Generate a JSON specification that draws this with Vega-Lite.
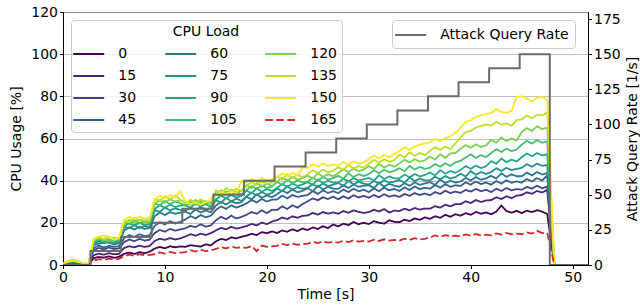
{
"$schema": "https://vega.github.io/schema/vega-lite/v6.json",
"width": 525, "height": 253,
"autosize": {"type": "none"},
"padding": {"left": 63, "top": 12, "right": 52, "bottom": 43},
"background": "white",
"config": {
  "font": "DejaVu Sans",
  "view": {"stroke": "black", "strokeWidth": 1},
  "axis": {"domainColor": "black", "tickColor": "black", "labelColor": "black", "titleColor": "black", "labelFontSize": 14, "titleFontSize": 14, "titleFontWeight": "normal", "tickSize": 3.5, "labelPadding": 2, "domainWidth": 1, "tickWidth": 1, "gridColor": "#b0b0b0", "gridWidth": 0.8, "labelFlush": false, "labelOverlap": false},
  "legend": {"labelFontSize": 14, "labelColor": "black", "titleFontSize": 14, "titleFontWeight": "normal", "titleColor": "black", "strokeColor": "#cccccc", "fillColor": "rgba(255,255,255,0.8)", "cornerRadius": 3, "padding": 5}
},
"layer": [
{
  "data": {"values": [
{"t":0,"0":0.2,"15":0.3,"30":0.2,"45":0.3,"60":0.4,"75":0.3,"90":0.4,"105":0.5,"120":0.6,"135":0.8,"150":0.7,"165":0.1},
{"t":0.5,"0":0.4,"15":0.5,"30":0.6,"45":0.7,"60":0.8,"75":0.9,"90":1.0,"105":1.2,"120":1.5,"135":1.9,"150":1.6,"165":0.3},
{"t":1,"0":0.6,"15":0.9,"30":1.0,"45":1.2,"60":1.3,"75":1.4,"90":1.6,"105":1.9,"120":2.3,"135":2.6,"150":2.2,"165":0.4},
{"t":1.5,"0":0.5,"15":0.7,"30":0.8,"45":0.9,"60":1.0,"75":1.1,"90":1.2,"105":1.4,"120":1.6,"135":1.8,"150":1.5,"165":0.3},
{"t":2,"0":0.3,"15":0.4,"30":0.4,"45":0.4,"60":0.5,"75":0.5,"90":0.6,"105":0.6,"120":0.7,"135":0.8,"150":0.7,"165":0.2},
{"t":2.5,"0":0.3,"15":0.3,"30":0.3,"45":0.3,"60":0.4,"75":0.4,"90":0.4,"105":0.4,"120":0.5,"135":0.5,"150":0.5,"165":0.1},
{"t":3,"0":3.2,"15":4.6,"30":7.0,"45":8.0,"60":9.5,"75":10.1,"90":10.5,"105":11.0,"120":11.4,"135":11.9,"150":12.2,"165":2.1},
{"t":3.5,"0":3.8,"15":5.4,"30":8.1,"45":9.2,"60":10.1,"75":11.2,"90":11.7,"105":12.3,"120":12.8,"135":13.3,"150":13.6,"165":2.8},
{"t":4,"0":3.5,"15":4.9,"30":7.4,"45":8.3,"60":10.6,"75":10.4,"90":11.9,"105":11.4,"120":11.8,"135":12.3,"150":13.9,"165":2.4},
{"t":4.5,"0":4.1,"15":5.6,"30":8.3,"45":9.1,"60":10.6,"75":11.0,"90":10.7,"105":12.1,"120":11.5,"135":13.1,"150":13.4,"165":3.0},
{"t":5,"0":3.4,"15":5.1,"30":7.6,"45":8.6,"60":9.7,"75":10.2,"90":10.8,"105":11.2,"120":12.9,"135":12.1,"150":12.0,"165":2.5},
{"t":5.5,"0":3.9,"15":5.3,"30":7.9,"45":8.9,"60":10.3,"75":10.8,"90":11.3,"105":11.8,"120":12.3,"135":12.8,"150":13.1,"165":2.9},
{"t":6,"0":5.3,"15":8.1,"30":10.9,"45":12.8,"60":16.3,"75":18.1,"90":18.3,"105":20.4,"120":19.6,"135":21.3,"150":21.1,"165":4.2},
{"t":6.5,"0":5.9,"15":8.9,"30":12.1,"45":14.2,"60":17.9,"75":17.5,"90":19.8,"105":19.3,"120":21.4,"135":20.4,"150":22.9,"165":4.9},
{"t":7,"0":5.2,"15":8.4,"30":11.3,"45":13.3,"60":16.8,"75":18.9,"90":18.7,"105":21.2,"120":20.1,"135":22.4,"150":21.6,"165":4.4},
{"t":7.5,"0":6.1,"15":9.2,"30":12.4,"45":14.6,"60":18.2,"75":17.4,"90":20.0,"105":19.8,"120":21.6,"135":21.0,"150":23.1,"165":5.1},
{"t":8,"0":5.6,"15":8.6,"30":11.6,"45":13.7,"60":17.1,"75":18.6,"90":18.9,"105":20.7,"120":20.3,"135":21.9,"150":21.8,"165":4.6},
{"t":8.5,"0":6.3,"15":9.0,"30":12.0,"45":14.1,"60":17.6,"75":18.0,"90":19.4,"105":20.1,"120":21.0,"135":20.8,"150":22.5,"165":4.8},
{"t":9,"0":7.8,"15":11.4,"30":15.2,"45":18.6,"60":23.2,"75":26.0,"90":26.6,"105":29.2,"120":29.1,"135":31.4,"150":31.1,"165":5.1},
{"t":9.5,"0":8.6,"15":12.5,"30":16.6,"45":20.3,"60":24.9,"75":25.2,"90":28.3,"105":28.3,"120":30.9,"135":30.2,"150":32.9,"165":6.0},
{"t":10,"0":7.9,"15":11.9,"30":15.8,"45":19.2,"60":23.7,"75":27.3,"90":27.1,"105":30.4,"120":29.6,"135":32.6,"150":31.6,"165":5.4},
{"t":10.5,"0":8.9,"15":12.8,"30":17.1,"45":20.8,"60":25.1,"75":25.9,"90":28.7,"105":28.8,"120":31.2,"135":31.1,"150":33.2,"165":6.2},
{"t":11,"0":8.4,"15":12.1,"30":16.3,"45":19.7,"60":24.3,"75":26.9,"90":27.5,"105":30.1,"120":30.0,"135":32.9,"150":32.0,"165":5.6},
{"t":11.5,"0":8.8,"15":12.6,"30":16.9,"45":20.4,"60":24.8,"75":26.1,"90":28.2,"105":29.3,"120":30.7,"135":31.0,"150":35.1,"165":5.9},
{"t":12,"0":8.6,"15":13.5,"30":17.4,"45":21.6,"60":25.3,"75":25.7,"90":28.3,"105":28.2,"120":29.8,"135":29.1,"150":30.1,"165":6.1},
{"t":12.5,"0":9.4,"15":14.6,"30":18.6,"45":23.2,"60":24.2,"75":27.3,"90":27.1,"105":29.9,"120":28.5,"135":30.9,"150":28.9,"165":7.0},
{"t":13,"0":9.1,"15":13.9,"30":17.9,"45":22.1,"60":26.4,"75":26.1,"90":29.4,"105":28.6,"120":30.9,"135":29.6,"150":29.6,"165":6.4},
{"t":13.5,"0":8.7,"15":14.8,"30":19.3,"45":23.7,"60":24.9,"75":27.5,"90":27.8,"105":30.1,"120":29.2,"135":31.1,"150":28.6,"165":7.2},
{"t":14,"0":9.8,"15":14.2,"30":18.2,"45":22.6,"60":25.9,"75":26.4,"90":28.9,"105":28.9,"120":30.3,"135":29.8,"150":29.8,"165":6.6},
{"t":14.5,"0":9.3,"15":15.1,"30":18.8,"45":23.4,"60":25.0,"75":27.0,"90":27.6,"105":29.6,"120":29.0,"135":30.5,"150":30.5,"165":6.9},
{"t":15,"0":11.2,"15":16.4,"30":21.2,"45":26.1,"60":28.2,"75":30.8,"90":31.1,"105":33.9,"120":33.6,"135":35.4,"150":33.1,"165":7.6},
{"t":15.5,"0":12.4,"15":17.6,"30":22.9,"45":27.8,"60":29.9,"75":29.5,"90":32.9,"105":32.5,"120":35.4,"135":34.0,"150":34.9,"165":8.5},
{"t":16,"0":11.8,"15":16.9,"30":21.7,"45":26.6,"60":28.7,"75":31.9,"90":31.6,"105":34.8,"120":34.1,"135":36.5,"150":33.6,"165":7.9},
{"t":16.5,"0":13.1,"15":18.1,"30":23.4,"45":28.3,"60":30.2,"75":30.2,"90":33.2,"105":33.2,"120":35.7,"135":34.8,"150":35.2,"165":8.7},
{"t":17,"0":12.6,"15":17.3,"30":22.1,"45":27.2,"60":29.3,"75":31.5,"90":32.0,"105":34.6,"120":34.5,"135":36.1,"150":34.0,"165":8.1},
{"t":17.5,"0":13.4,"15":17.8,"30":22.8,"45":28.1,"60":29.8,"75":30.4,"90":32.7,"105":33.4,"120":35.2,"135":35.2,"150":39.7,"165":8.4},
{"t":18,"0":13.9,"15":18.4,"30":23.8,"45":29.2,"60":32.4,"75":32.6,"90":35.3,"105":35.6,"120":37.9,"135":37.6,"150":39.1,"165":8.1},
{"t":18.5,"0":14.8,"15":19.5,"30":25.1,"45":30.8,"60":31.1,"75":34.3,"90":34.0,"105":37.4,"120":36.5,"135":39.4,"150":40.9,"165":9.0},
{"t":19,"0":14.2,"15":18.8,"30":24.3,"45":29.7,"60":33.6,"75":33.1,"90":36.4,"105":36.1,"120":38.9,"135":38.1,"150":39.6,"165":6.6},
{"t":19.5,"0":15.6,"15":20.1,"30":25.9,"45":31.3,"60":31.9,"75":34.6,"90":34.7,"105":37.7,"120":37.2,"135":39.7,"150":41.2,"165":9.2},
{"t":20,"0":15.1,"15":19.4,"30":24.6,"45":30.1,"60":33.0,"75":33.4,"90":36.0,"105":36.5,"120":38.6,"135":38.5,"150":40.0,"165":8.6},
{"t":20.5,"0":15.9,"15":20.6,"30":26.2,"45":31.0,"60":32.2,"75":34.1,"90":35.1,"105":37.2,"120":37.4,"135":39.2,"150":40.7,"165":8.9},
{"t":21,"0":15.2,"15":21.3,"30":26.1,"45":31.1,"60":33.6,"75":36.3,"90":36.6,"105":39.4,"120":39.6,"135":41.9,"150":41.6,"165":9.1},
{"t":21.5,"0":16.4,"15":22.5,"30":27.8,"45":32.9,"60":35.3,"75":35.0,"90":38.4,"105":38.0,"120":41.4,"135":40.5,"150":43.4,"165":10.0},
{"t":22,"0":15.8,"15":21.8,"30":26.6,"45":31.6,"60":34.1,"75":37.5,"90":37.1,"105":40.5,"120":40.1,"135":43.0,"150":42.1,"165":9.4},
{"t":22.5,"0":16.9,"15":23.1,"30":28.3,"45":33.2,"60":35.8,"75":35.7,"90":38.7,"105":38.7,"120":41.7,"135":41.2,"150":43.7,"165":10.2},
{"t":23,"0":16.1,"15":22.4,"30":27.2,"45":32.3,"60":34.5,"75":36.9,"90":37.5,"105":40.1,"120":40.5,"135":42.8,"150":42.5,"165":9.6},
{"t":23.5,"0":17.3,"15":23.3,"30":28.9,"45":32.8,"60":35.2,"75":36.1,"90":38.2,"105":39.2,"120":41.2,"135":41.6,"150":46.2,"165":9.9},
{"t":24,"0":16.6,"15":23.5,"30":30.2,"45":33.2,"60":36.4,"75":36.6,"90":39.3,"105":39.6,"120":42.4,"135":43.1,"150":46.1,"165":10.1},
{"t":24.5,"0":17.8,"15":24.7,"30":31.6,"45":35.1,"60":35.0,"75":38.4,"90":38.0,"105":41.4,"120":41.0,"135":44.9,"150":47.9,"165":11.0},
{"t":25,"0":17.1,"15":23.9,"30":30.7,"45":33.7,"60":37.6,"75":37.0,"90":40.6,"105":40.1,"120":43.5,"135":43.6,"150":46.6,"165":10.4},
{"t":25.5,"0":18.4,"15":25.1,"30":32.1,"45":35.4,"60":35.8,"75":38.7,"90":38.7,"105":41.7,"120":41.8,"135":45.2,"150":48.2,"165":11.2},
{"t":26,"0":17.5,"15":24.4,"30":31.3,"45":34.2,"60":37.1,"75":37.4,"90":40.1,"105":40.5,"120":43.0,"135":44.0,"150":47.0,"165":10.6},
{"t":26.5,"0":19.2,"15":24.9,"30":32.4,"45":35.0,"60":36.2,"75":38.1,"90":39.0,"105":41.2,"120":42.1,"135":44.7,"150":47.7,"165":10.9},
{"t":27,"0":18.3,"15":24.3,"30":31.2,"45":34.1,"60":36.1,"75":38.9,"90":39.1,"105":42.3,"120":43.6,"135":46.4,"150":47.1,"165":10.6},
{"t":27.5,"0":19.6,"15":25.6,"30":32.6,"45":35.8,"60":37.8,"75":37.5,"90":40.9,"105":41.0,"120":45.4,"135":45.0,"150":48.9,"165":11.5},
{"t":28,"0":18.9,"15":24.8,"30":31.5,"45":34.6,"60":36.5,"75":40.0,"90":39.6,"105":43.5,"120":44.1,"135":47.5,"150":47.6,"165":10.9},
{"t":28.5,"0":20.4,"15":25.9,"30":33.1,"45":36.2,"60":38.2,"75":38.2,"90":41.2,"105":41.7,"120":45.7,"135":45.7,"150":49.2,"165":11.7},
{"t":29,"0":19.3,"15":25.2,"30":32.0,"45":35.0,"60":37.1,"75":39.5,"90":40.0,"105":43.1,"120":44.5,"135":47.0,"150":48.0,"165":11.1},
{"t":29.5,"0":20.1,"15":24.7,"30":32.8,"45":35.7,"60":37.6,"75":38.6,"90":40.7,"105":42.2,"120":45.2,"135":46.1,"150":48.7,"165":11.4},
{"t":30,"0":19.4,"15":25.1,"30":31.9,"45":34.6,"60":37.8,"75":38.1,"90":41.3,"105":43.1,"120":46.9,"135":48.1,"150":50.1,"165":11.1},
{"t":30.5,"0":20.8,"15":26.2,"30":33.2,"45":36.3,"60":36.5,"75":39.9,"90":40.0,"105":44.9,"120":45.5,"135":49.9,"150":51.9,"165":12.0},
{"t":31,"0":20.1,"15":25.4,"30":32.1,"45":35.0,"60":39.0,"75":38.6,"90":42.6,"105":43.6,"120":48.0,"135":48.6,"150":50.6,"165":11.4},
{"t":31.5,"0":19.6,"15":26.5,"30":33.6,"45":36.7,"60":37.2,"75":40.2,"90":40.8,"105":45.2,"120":46.2,"135":50.2,"150":52.2,"165":12.2},
{"t":32,"0":21.2,"15":24.9,"30":32.4,"45":35.4,"60":38.5,"75":39.0,"90":42.0,"105":44.0,"120":47.5,"135":49.0,"150":51.0,"165":11.6},
{"t":32.5,"0":20.5,"15":25.8,"30":33.0,"45":36.1,"60":37.6,"75":39.6,"90":41.1,"105":44.7,"120":46.6,"135":49.7,"150":52.7,"165":11.9},
{"t":33,"0":20.3,"15":25.6,"30":32.3,"45":35.1,"60":37.1,"75":40.3,"90":41.1,"105":45.9,"120":48.1,"135":52.4,"150":54.1,"165":11.6},
{"t":33.5,"0":21.5,"15":26.7,"30":33.7,"45":36.8,"60":38.8,"75":39.0,"90":42.9,"105":44.5,"120":49.9,"135":51.0,"150":55.9,"165":12.5},
{"t":34,"0":20.8,"15":25.9,"30":32.8,"45":35.6,"60":37.6,"75":41.5,"90":41.6,"105":47.0,"120":48.6,"135":53.5,"150":54.6,"165":11.9},
{"t":34.5,"0":22.1,"15":27.0,"30":34.1,"45":37.2,"60":39.2,"75":39.8,"90":43.2,"105":45.3,"120":50.2,"135":51.8,"150":56.2,"165":12.7},
{"t":35,"0":21.4,"15":26.3,"30":33.2,"45":36.0,"60":38.0,"75":41.0,"90":42.0,"105":46.5,"120":49.0,"135":53.1,"150":57.0,"165":12.1},
{"t":35.5,"0":22.6,"15":26.8,"30":33.9,"45":36.6,"60":38.7,"75":40.1,"90":42.7,"105":45.6,"120":49.7,"135":52.2,"150":57.7,"165":12.4},
{"t":36,"0":21.9,"15":26.7,"30":33.1,"45":36.2,"60":39.3,"75":40.1,"90":43.9,"105":46.1,"120":51.4,"135":54.1,"150":58.1,"165":13.1},
{"t":36.5,"0":23.1,"15":27.9,"30":34.6,"45":37.9,"60":38.0,"75":41.9,"90":42.5,"105":47.9,"120":50.0,"135":55.9,"150":59.9,"165":14.0},
{"t":37,"0":22.4,"15":27.2,"30":33.7,"45":36.7,"60":40.6,"75":40.6,"90":45.0,"105":46.6,"120":52.5,"135":54.6,"150":58.6,"165":13.4},
{"t":37.5,"0":23.8,"15":28.6,"30":35.2,"45":38.3,"60":38.8,"75":42.2,"90":43.3,"105":48.2,"120":50.8,"135":56.2,"150":60.2,"165":14.2},
{"t":38,"0":22.9,"15":27.8,"30":34.1,"45":37.1,"60":40.0,"75":41.0,"90":44.6,"105":47.0,"120":52.9,"135":55.0,"150":61.0,"165":13.6},
{"t":38.5,"0":24.1,"15":28.9,"30":34.8,"45":37.8,"60":39.1,"75":41.7,"90":43.7,"105":48.7,"120":53.1,"135":57.7,"150":62.7,"165":13.9},
{"t":39,"0":23.4,"15":28.9,"30":34.2,"45":37.5,"60":39.6,"75":43.3,"90":45.1,"105":49.4,"120":55.1,"135":60.6,"150":65.1,"165":13.6},
{"t":39.5,"0":24.6,"15":30.2,"30":35.6,"45":39.2,"60":41.3,"75":42.0,"90":46.9,"105":51.0,"120":56.9,"135":62.9,"150":67.9,"165":14.5},
{"t":40,"0":23.8,"15":29.4,"30":34.8,"45":38.1,"60":40.1,"75":44.5,"90":45.6,"105":52.5,"120":55.6,"135":63.6,"150":68.6,"165":13.9},
{"t":40.5,"0":25.2,"15":30.8,"30":36.1,"45":39.6,"60":41.7,"75":42.8,"90":47.2,"105":50.8,"120":57.2,"135":65.2,"150":70.2,"165":14.7},
{"t":41,"0":24.3,"15":29.9,"30":35.0,"45":38.4,"60":40.4,"75":44.1,"90":46.0,"105":52.1,"120":56.0,"135":66.0,"150":71.0,"165":14.1},
{"t":41.5,"0":24.9,"15":30.6,"30":35.7,"45":39.1,"60":41.1,"75":43.2,"90":46.8,"105":51.2,"120":56.7,"135":66.7,"150":71.7,"165":14.4},
{"t":42,"0":24.1,"15":30.8,"30":34.6,"45":38.1,"60":42.3,"75":44.1,"90":49.3,"105":53.1,"120":59.4,"135":66.1,"150":72.1,"165":14.1},
{"t":42.5,"0":25.3,"15":32.1,"30":36.2,"45":39.8,"60":41.0,"75":45.9,"90":48.0,"105":54.9,"120":58.0,"135":67.9,"150":73.9,"165":15.0},
{"t":43,"0":28.2,"15":31.3,"30":35.1,"45":38.6,"60":43.5,"75":44.6,"90":50.5,"105":53.6,"120":60.5,"135":66.6,"150":72.6,"165":14.4},
{"t":43.5,"0":25.6,"15":32.6,"30":36.5,"45":40.2,"60":41.8,"75":46.1,"90":48.8,"105":55.2,"120":58.8,"135":67.2,"150":72.2,"165":15.2},
{"t":44,"0":24.8,"15":31.7,"30":35.4,"45":39.0,"60":43.0,"75":45.0,"90":50.0,"105":54.0,"120":60.0,"135":66.0,"150":73.0,"165":14.6},
{"t":44.5,"0":25.7,"15":32.9,"30":36.0,"45":39.6,"60":42.1,"75":45.6,"90":49.1,"105":54.7,"120":59.1,"135":68.7,"150":79.7,"165":14.9},
{"t":45,"0":24.6,"15":33.2,"30":35.7,"45":39.1,"60":42.1,"75":46.1,"90":51.1,"105":57.1,"120":63.1,"135":69.1,"150":80.1,"165":14.6},
{"t":45.5,"0":25.8,"15":34.5,"30":37.1,"45":40.8,"60":43.8,"75":47.8,"90":52.9,"105":58.9,"120":64.9,"135":70.9,"150":78.9,"165":15.5},
{"t":46,"0":25.1,"15":33.8,"30":36.2,"45":39.6,"60":42.5,"75":46.6,"90":51.6,"105":57.6,"120":63.6,"135":69.6,"150":77.6,"165":14.9},
{"t":46.5,"0":26.0,"15":35.1,"30":37.6,"45":41.2,"60":44.1,"75":48.1,"90":53.1,"105":59.2,"120":65.8,"135":71.2,"150":79.2,"165":16.2},
{"t":47,"0":25.3,"15":34.4,"30":36.4,"45":40.0,"60":42.9,"75":47.0,"90":52.0,"105":58.0,"120":64.5,"135":71.0,"150":79.8,"165":15.1},
{"t":47.5,"0":24.2,"15":35.6,"30":37.2,"45":42.5,"60":43.6,"75":47.5,"90":52.6,"105":58.7,"120":65.2,"135":72.3,"150":78.3,"165":15.4},
{"t":48.2,"0":0,"15":0,"30":0,"45":0,"60":0,"75":0,"90":0,"105":0,"120":0,"135":0,"150":0,"165":0},
{"t":51.5,"0":0,"15":0,"30":0,"45":0,"60":0,"75":0,"90":0,"105":0,"120":0,"135":0,"150":0,"165":0}
  ]},
  "transform": [{"fold": ["0","15","30","45","60","75","90","105","120","135","150","165"], "as": ["load", "cpu"]}],
  "mark": {"type": "line", "strokeWidth": 1.8, "clip": true},
  "encoding": {
    "x": {"field": "t", "type": "quantitative", "scale": {"domain": [0, 51.5], "nice": false, "zero": false}, "axis": {"title": "Time [s]", "values": [0,10,20,30,40,50], "grid": false, "titlePadding": 3}},
    "y": {"field": "cpu", "type": "quantitative", "scale": {"domain": [0, 120], "nice": false}, "axis": {"title": "CPU Usage [%]", "orient": "left", "values": [0,20,40,60,80,100,120], "grid": true, "titlePadding": 7}},
    "color": {"field": "load", "type": "nominal",
      "scale": {"domain": ["0","15","30","45","60","75","90","105","120","135","150","165"],
                "range": ["#440154","#482475","#414487","#355f8d","#2a788e","#21918c","#22a884","#44bf70","#7ad151","#bddf26","#fde725","#d62728"]},
      "legend": {"title": "CPU Load", "orient": "none", "legendX": 8, "legendY": 8, "columns": 3, "titleAnchor": "middle", "titlePadding": 6, "symbolType": "M-2,0H2", "symbolSize": 240, "symbolOffset": 3.75, "symbolStrokeWidth": 2, "labelOffset": 20.5, "columnPadding": 24, "rowPadding": 6}},
    "strokeDash": {"field": "load", "type": "nominal",
      "scale": {"domain": ["0","15","30","45","60","75","90","105","120","135","150","165"],
                "range": [[1,0],[1,0],[1,0],[1,0],[1,0],[1,0],[1,0],[1,0],[1,0],[1,0],[1,0],[7.7,3.3]]},
      "legend": {"title": "CPU Load", "orient": "none", "legendX": 8, "legendY": 8, "columns": 3, "titleAnchor": "middle", "titlePadding": 6, "symbolType": "M-2,0H2", "symbolSize": 240, "symbolOffset": 3.75, "symbolStrokeWidth": 2, "labelOffset": 20.5, "columnPadding": 24, "rowPadding": 6}}
  }
},
{
  "data": {"values": [
    {"t":0,"rate":0},{"t":2.7,"rate":10},{"t":5.7,"rate":20},{"t":8.7,"rate":30},{"t":11.7,"rate":40},
    {"t":14.75,"rate":50},{"t":17.75,"rate":60},{"t":20.75,"rate":70},{"t":23.8,"rate":80},{"t":26.8,"rate":90},
    {"t":29.8,"rate":100},{"t":32.8,"rate":110},{"t":35.8,"rate":120},{"t":38.8,"rate":130},{"t":41.8,"rate":140},
    {"t":44.8,"rate":150},{"t":47.75,"rate":0},{"t":51.5,"rate":0}
  ]},
  "mark": {"type": "line", "interpolate": "step-after", "strokeWidth": 2, "clip": true},
  "encoding": {
    "x": {"field": "t", "type": "quantitative"},
    "y": {"field": "rate", "type": "quantitative", "scale": {"domain": [0, 180], "nice": false}, "axis": {"title": "Attack Query Rate [1/s]", "orient": "right", "values": [0,25,50,75,100,125,150,175], "grid": false, "titleAngle": 270, "titlePadding": 19}},
    "stroke": {"datum": "Attack Query Rate", "type": "nominal", "scale": {"range": ["#6b6b6b"]},
      "legend": {"title": null, "orient": "none", "legendX": 329, "legendY": 8, "symbolType": "M-2,0H2", "symbolSize": 240, "symbolOffset": 3.75, "symbolStrokeWidth": 2, "labelOffset": 20.5, "padding": 6}}
  }
}
],
"resolve": {"scale": {"y": "independent"}}
}
